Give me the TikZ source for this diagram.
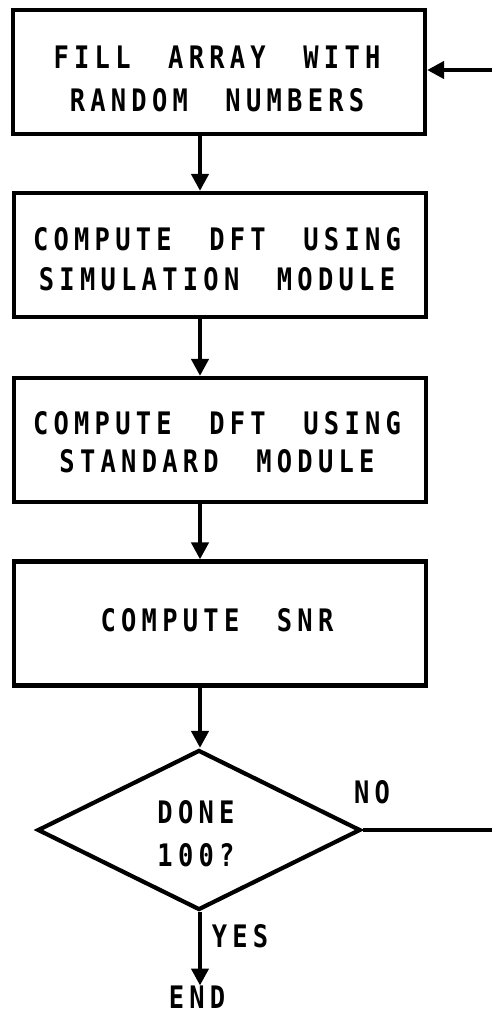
\documentclass[tikz,border=0pt]{standalone}
\usepackage{fontspec}
\usetikzlibrary{arrows.meta,shapes.geometric}
\newfontfamily\flowfont{DejaVu Sans Mono}[LetterSpace=17,FakeStretch=0.82]
\newcommand\wg{\hspace{17pt}}
\tikzset{
  box/.style={draw, line width=4.2pt, minimum width=412pt, minimum height=124pt, inner sep=0pt},
  txt/.style={inner sep=0pt, align=center, font=\flowfont\bfseries\fontsize{31}{40}\selectfont},
  dec/.style={draw, shape=diamond, line width=4.2pt, minimum width=323pt, minimum height=160pt,
    inner sep=0pt},
  arr/.style={line width=4.2pt, -{Triangle[width=17pt,length=17pt]}},
}
\begin{document}
\begin{tikzpicture}[x=1pt,y=-1pt]
\useasboundingbox (0,0) rectangle (492,1014);
\coordinate (axis) at (200,0);
\node[box] (b1) at (219,72) {};
\node[box] (b2) at (220,255) {};
\node[box] (b3) at (220,440) {};
\node[box] (b4) at (220,623.5) {};
\node[dec] (d) at (199,830) {};
\node[txt, font=\flowfont\bfseries\fontsize{31}{43}\selectfont] (t1) at (217,79) {FILL \wg ARRAY \wg WITH\\RANDOM \wg NUMBERS};
\node[txt] (t2) at (217,259) {COMPUTE \wg DFT \wg USING\\SIMULATION \wg MODULE};
\node[txt, font=\flowfont\bfseries\fontsize{31}{38}\selectfont] (t3) at (217,442) {COMPUTE \wg DFT \wg USING\\STANDARD \wg MODULE};
\node[txt] (t4) at (217,620) {COMPUTE \wg SNR};
\node[txt, font=\flowfont\bfseries\fontsize{31}{43}\selectfont] (t5) at (196,834) {DONE\\100?};
\node[txt] (end) at (197,997) {END};
\node[txt] (yes) at (240,936) {YES};
\node[txt] (no) at (372,792) {NO};
\coordinate (r1) at (505,830);
\coordinate (r2) at (505,70);
\draw[arr] (b1.south -| axis) -- (b2.north -| axis);
\draw[arr] (b2.south -| axis) -- (b3.north -| axis);
\draw[arr] (b3.south -| axis) -- (b4.north -| axis);
\draw[arr] (b4.south -| axis) -- (d.north -| axis);
\draw[arr] (d.south -| axis) -- (end.north -| axis);
\draw[arr] (d.east) -- (r1) -- (r2) -- (r2 -| b1.east);
\end{tikzpicture}
\end{document}
